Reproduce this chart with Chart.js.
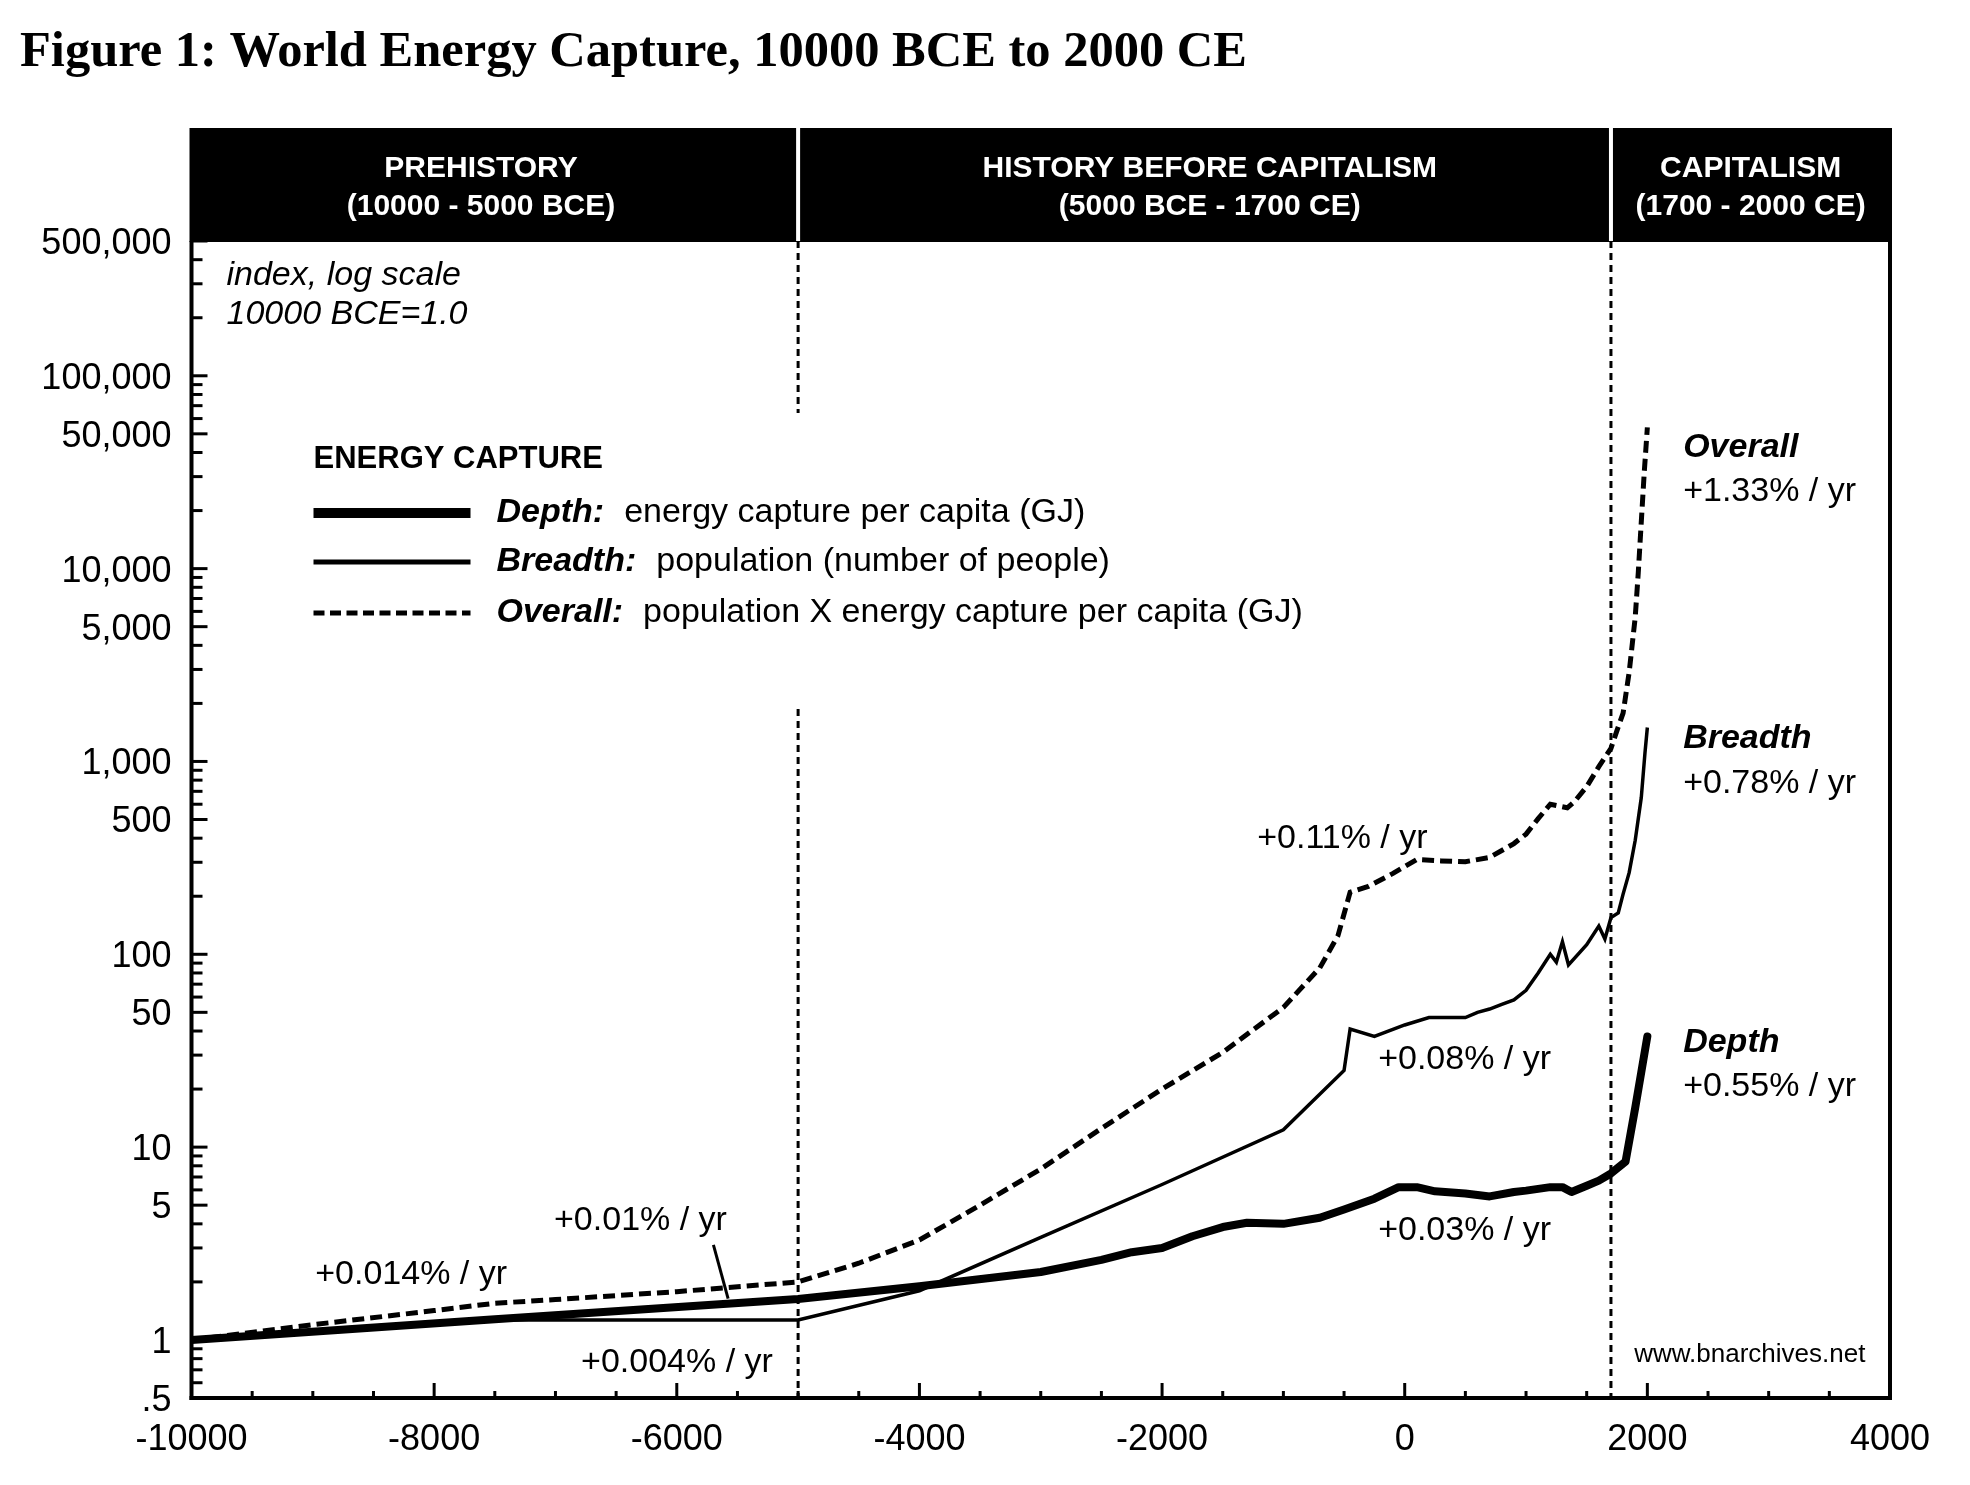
<!DOCTYPE html>
<html>
<head>
<meta charset="utf-8">
<script src="https://cdn.jsdelivr.net/npm/chart.js@4.4.1/dist/chart.umd.min.js"></script>
<style>
  html, body { margin: 0; padding: 0; background: #fff; }
  canvas { display: block; }
</style>
</head>
<body>
<canvas id="chart" width="1970" height="1485"></canvas>
<script>
// ---- data (index, 10000 BCE = 1.0) ----
var depthYears = [-10000, -7500, -5000, -4000, -3000, -2500, -2250, -2000, -1750, -1500, -1300, -1000, -700, -500, -250, -50, 100, 250, 500, 700, 900, 1000, 1200, 1300, 1375, 1500, 1600, 1700, 1820, 1900, 1950, 2000];
var depthValues = [1.0, 1.28, 1.63, 1.9, 2.25, 2.6, 2.85, 3.0, 3.45, 3.85, 4.05, 4.0, 4.3, 4.75, 5.4, 6.2, 6.2, 5.9, 5.75, 5.55, 5.85, 5.95, 6.2, 6.2, 5.85, 6.3, 6.7, 7.3, 8.4, 16, 24.5, 37.5];

var breadthYears = [-10000, -7500, -5000, -4000, -3000, -2000, -1000, -500, -450, -250, 0, 200, 500, 600, 700, 800, 900, 1000, 1100, 1200, 1250, 1300, 1350, 1500, 1600, 1650, 1700, 1760, 1800, 1850, 1900, 1950, 1980, 2000];
var breadthValues = [1.0, 1.27, 1.27, 1.8, 3.4, 6.4, 12.3, 25, 41, 37.5, 43, 47, 47, 50, 52, 55, 58, 65, 80, 100, 91, 116, 88, 112, 140, 120, 155, 164, 205, 265, 390, 650, 1100, 1500];

var overallYears = [-10000, -9000, -8000, -7500, -7000, -6000, -5000, -4500, -4000, -3500, -3000, -2500, -2000, -1500, -1000, -700, -550, -450, -300, -100, 100, 300, 500, 700, 900, 1000, 1100, 1200, 1340, 1400, 1500, 1600, 1700, 1750, 1800, 1850, 1900, 1925, 1950, 1975, 2000];
var overallValues = [1.0, 1.2, 1.42, 1.55, 1.62, 1.78, 2.0, 2.5, 3.3, 5.0, 7.7, 12.5, 20, 31, 53, 85, 125, 210, 225, 262, 310, 305, 302, 318, 375, 420, 505, 600, 575, 620, 740, 940, 1170, 1450, 1780, 2900, 5600, 9500, 17500, 32000, 54000];

var xTickValues = [-10000, -8000, -6000, -4000, -2000, 0, 2000, 4000];
var xTickLabels = ['-10000', '-8000', '-6000', '-4000', '-2000', '0', '2000', '4000'];
var yTickValues = [0.5, 1, 5, 10, 50, 100, 500, 1000, 5000, 10000, 50000, 100000, 500000];
var yTickLabels = ['.5', '1', '5', '10', '50', '100', '500', '1,000', '5,000', '10,000', '50,000', '100,000', '500,000'];

var periodBreaks = [-5000, 1700];
var periods = [
  { year: -7614, lines: ['PREHISTORY', '(10000 - 5000 BCE)'] },
  { year: -1607, lines: ['HISTORY BEFORE CAPITALISM', '(5000 BCE - 1700 CE)'] },
  { year: 2851, lines: ['CAPITALISM', '(1700 - 2000 CE)'] }
];

var notes = [
  { text: '+0.014% / yr', year: -8980, value: 2.23 },
  { text: '+0.01% / yr', year: -7012, value: 4.24 },
  { text: '+0.004% / yr', year: -6789, value: 0.778 },
  { text: '+0.11% / yr', year: -1216, value: 406 },
  { text: '+0.08% / yr', year: -219, value: 29.0 },
  { text: '+0.03% / yr', year: -219, value: 3.77 },
  { text: 'Overall', year: 2295, value: 43350, bold: true },
  { text: '+1.33% / yr', year: 2295, value: 25650 },
  { text: 'Breadth', year: 2295, value: 1349, bold: true },
  { text: '+0.78% / yr', year: 2295, value: 784 },
  { text: 'Depth', year: 2295, value: 35.5, bold: true },
  { text: '+0.55% / yr', year: 2295, value: 21.0 },
  { text: 'www.bnarchives.net', year: 1891, value: 0.856, small: true }
];

var SANS = '"Liberation Sans", Arial, sans-serif';
var SERIF = '"Liberation Serif", "Times New Roman", serif';

function points(xs, ys) {
  var out = [];
  for (var i = 0; i < xs.length; i++) out.push({ x: xs[i], y: ys[i] });
  return out;
}

function line(ctx, x1, y1, x2, y2) {
  ctx.beginPath();
  ctx.moveTo(x1, y1);
  ctx.lineTo(x2, y2);
  ctx.stroke();
}

var decor = {
  id: 'decor',
  beforeDraw: function(chart) {
    var ctx = chart.ctx;
    ctx.save();
    ctx.fillStyle = '#fff';
    ctx.fillRect(0, 0, chart.width, chart.height);

    // title, fitted to the reference width
    var title = 'Figure 1: World Energy Capture, 10000 BCE to 2000 CE';
    ctx.font = 'bold 50px ' + SERIF;
    var size = 50 * 1228 / ctx.measureText(title).width;
    ctx.font = 'bold ' + size.toFixed(1) + 'px ' + SERIF;
    ctx.fillStyle = '#000';
    ctx.textBaseline = 'alphabetic';
    ctx.textAlign = 'left';
    ctx.fillText(title, 20, 66);
    ctx.restore();
  },
  beforeDatasetsDraw: function(chart) {
    var ctx = chart.ctx, a = chart.chartArea, xs = chart.scales.x;
    ctx.save();
    ctx.strokeStyle = '#000';
    ctx.lineWidth = 3;
    ctx.setLineDash([7, 5]);
    periodBreaks.forEach(function(yr) {
      var px = xs.getPixelForValue(yr);
      line(ctx, px, a.top, px, a.bottom);
    });
    ctx.setLineDash([]);
    // white panel behind the legend
    ctx.fillStyle = '#fff';
    ctx.fillRect(a.left + 110, 413, 1020, 294);
    ctx.restore();
  },
  afterDatasetsDraw: function(chart) {
    var ctx = chart.ctx, a = chart.chartArea, xs = chart.scales.x, ys = chart.scales.y;
    ctx.save();

    // header band
    ctx.fillStyle = '#000';
    ctx.fillRect(a.left - 2, 128, a.right - a.left + 4, a.top - 128 + 1);
    ctx.strokeStyle = '#fff';
    ctx.lineWidth = 4;
    periodBreaks.forEach(function(yr) {
      var px = xs.getPixelForValue(yr);
      line(ctx, px, 128, px, a.top);
    });
    ctx.fillStyle = '#fff';
    ctx.font = 'bold 30px ' + SANS;
    ctx.textAlign = 'center';
    ctx.textBaseline = 'middle';
    periods.forEach(function(p) {
      var px = xs.getPixelForValue(p.year);
      ctx.fillText(p.lines[0], px, 169);
      ctx.fillText(p.lines[1], px, 207);
    });

    // axes frame
    ctx.strokeStyle = '#000';
    ctx.lineWidth = 4;
    line(ctx, a.left, a.top, a.left, a.bottom + 2);
    line(ctx, a.left - 2, a.bottom, a.right + 2, a.bottom);
    line(ctx, a.right, a.top, a.right, a.bottom + 2);

    // tick marks, pointing inward
    ctx.lineWidth = 3;
    for (var yr = -10000; yr <= 4000; yr += 500) {
      var px = xs.getPixelForValue(yr);
      var len = (yr % 2000 === 0) ? 15 : 7;
      line(ctx, px, a.bottom, px, a.bottom - len);
    }
    for (var d = 0.1; d < 1e6; d *= 10) {
      for (var m = 1; m <= 9; m++) {
        var v = d * m;
        if (v < 0.5 * 1.001 || v > 500000 * 1.001) continue;
        var py = ys.getPixelForValue(v);
        var l = (m === 1 || m === 5) ? 16 : 11;
        line(ctx, a.left, py, a.left + l, py);
      }
    }

    // text notes inside the plot
    ctx.fillStyle = '#000';
    ctx.textAlign = 'left';
    ctx.textBaseline = 'middle';
    ctx.font = 'italic 34px ' + SANS;
    ctx.fillText('index, log scale', a.left + 35, a.top + 35);
    ctx.fillText('10000 BCE=1.0', a.left + 35, a.top + 74);
    notes.forEach(function(n) {
      if (n.bold) ctx.font = 'italic bold 34px ' + SANS;
      else if (n.small) ctx.font = '26px ' + SANS;
      else ctx.font = '34px ' + SANS;
      ctx.fillText(n.text, xs.getPixelForValue(n.year), ys.getPixelForValue(n.value) + 2);
    });

    // pointer from "+0.01% / yr" to the dashed line
    ctx.lineWidth = 3;
    line(ctx, xs.getPixelForValue(-5698), ys.getPixelForValue(3.11),
              xs.getPixelForValue(-5577), ys.getPixelForValue(1.64));

    // legend
    var lx = a.left + 122, tx = a.left + 305;
    ctx.font = 'bold 31px ' + SANS;
    ctx.fillText('ENERGY CAPTURE', lx, 459);
    var entries = [
      { name: 'Depth:', desc: 'energy capture per capita (GJ)', y: 513, width: 10, dash: [] },
      { name: 'Breadth:', desc: 'population (number of people)', y: 562, width: 5, dash: [] },
      { name: 'Overall:', desc: 'population X energy capture per capita (GJ)', y: 613, width: 5, dash: [11, 5.5] }
    ];
    entries.forEach(function(e) {
      ctx.lineWidth = e.width;
      ctx.setLineDash(e.dash);
      line(ctx, lx, e.y, lx + 157, e.y);
      ctx.setLineDash([]);
      ctx.font = 'italic bold 34px ' + SANS;
      ctx.fillText(e.name, tx, e.y);
      var w = ctx.measureText(e.name).width;
      ctx.font = '34px ' + SANS;
      ctx.fillText(e.desc, tx + w + 20, e.y);
    });
    ctx.restore();
  }
};

var ctx = document.getElementById('chart').getContext('2d');
var chart = new Chart(ctx, {
  type: 'line',
  data: {
    datasets: [
      {
        label: 'Depth',
        data: points(depthYears, depthValues),
        borderColor: '#000',
        borderWidth: 8,
        borderJoinStyle: 'round',
        borderCapStyle: 'round',
        pointRadius: 0,
        tension: 0
      },
      {
        label: 'Breadth',
        data: points(breadthYears, breadthValues),
        borderColor: '#000',
        borderWidth: 3.5,
        pointRadius: 0,
        tension: 0
      },
      {
        label: 'Overall',
        data: points(overallYears, overallValues),
        borderColor: '#000',
        borderWidth: 5,
        borderDash: [12, 6],
        pointRadius: 0,
        tension: 0
      }
    ]
  },
  options: {
    responsive: false,
    animation: false,
    devicePixelRatio: 1,
    layout: { padding: { left: 0, top: 241, right: 80, bottom: 17 } },
    plugins: {
      legend: { display: false },
      tooltip: { enabled: false },
      title: { display: false }
    },
    scales: {
      x: {
        type: 'linear',
        min: -10000,
        max: 4000,
        grid: { display: false, drawTicks: false },
        border: { display: false },
        afterBuildTicks: function(scale) {
          scale.ticks = xTickValues.map(function(v) { return { value: v }; });
        },
        afterFit: function(scale) { scale.height = 70; },
        ticks: {
          autoSkip: false,
          maxRotation: 0,
          padding: 20,
          color: '#000',
          font: { family: SANS, size: 36 },
          callback: function(value, index) { return xTickLabels[index]; }
        }
      },
      y: {
        type: 'logarithmic',
        min: 0.5,
        max: 500000,
        grid: { display: false, drawTicks: false },
        border: { display: false },
        afterBuildTicks: function(scale) {
          scale.ticks = yTickValues.map(function(v) { return { value: v }; });
        },
        afterFit: function(scale) { scale.width = 191.5; },
        ticks: {
          autoSkip: false,
          padding: 20,
          labelOffset: 3,
          color: '#000',
          font: { family: SANS, size: 36 },
          callback: function(value, index) { return yTickLabels[index]; }
        }
      }
    }
  },
  plugins: [decor]
});
</script>
</body>
</html>
